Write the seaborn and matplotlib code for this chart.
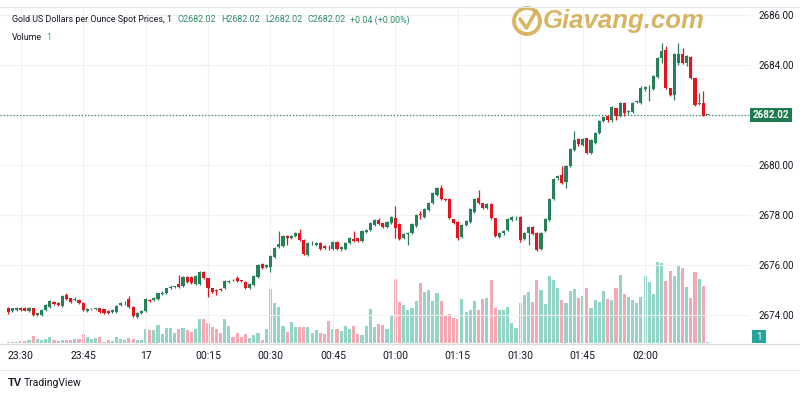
import matplotlib
matplotlib.use("Agg")
import matplotlib.pyplot as plt
import numpy as np
import pandas as pd
import seaborn as sns
from matplotlib.patches import Rectangle, Circle

# ---------------- data (1-minute candles, 23:27 -> 02:15) ----------------
open_ = [2674.29, 2674.17, 2674.20, 2674.29, 2674.29, 2674.17, 2674.27, 2674.00, 2674.00, 2674.20,
         2674.33, 2674.53, 2674.49, 2674.37, 2674.80, 2674.67, 2674.60, 2674.60, 2674.49, 2674.17,
         2674.23, 2674.23, 2674.27, 2674.23, 2674.16, 2674.13, 2674.13, 2674.39, 2674.47, 2674.63,
         2674.33, 2673.93, 2674.07, 2674.17, 2674.59, 2674.60, 2674.63, 2674.86, 2674.87, 2675.10,
         2675.12, 2675.23, 2675.16, 2675.53, 2675.51, 2675.23, 2675.24, 2675.71, 2675.47, 2675.07,
         2675.00, 2675.03, 2675.07, 2675.33, 2675.40, 2675.47, 2675.37, 2675.33, 2675.08, 2675.20,
         2675.53, 2676.03, 2675.91, 2675.93, 2676.33, 2676.73, 2676.76, 2677.16, 2677.09, 2677.16,
         2677.27, 2677.00, 2676.40, 2676.87, 2676.80, 2676.87, 2676.77, 2676.72, 2676.63, 2676.93,
         2676.63, 2676.63, 2676.87, 2677.03, 2677.07, 2676.95, 2677.31, 2677.40, 2677.60, 2677.80,
         2677.67, 2677.53, 2677.69, 2677.87, 2677.64, 2677.07, 2677.24, 2677.29, 2677.56, 2678.03,
         2677.93, 2678.20, 2678.47, 2678.80, 2679.09, 2678.63, 2678.63, 2677.83, 2677.73, 2677.13,
         2677.60, 2677.73, 2678.13, 2678.67, 2678.47, 2678.27, 2678.44, 2677.87, 2677.13, 2677.29,
         2677.40, 2677.80, 2677.87, 2677.91, 2677.03, 2677.27, 2677.53, 2677.29, 2676.63, 2677.37,
         2677.80, 2678.63, 2679.47, 2679.60, 2679.33, 2679.96, 2680.60, 2681.03, 2680.80, 2681.07,
         2680.47, 2680.89, 2681.29, 2681.76, 2681.96, 2681.80, 2682.27, 2681.96, 2682.49, 2682.13,
         2682.13, 2682.53, 2682.49, 2683.03, 2683.07, 2683.03, 2683.53, 2684.27, 2684.60, 2683.07,
         2682.80, 2684.07, 2684.44, 2684.07, 2684.33, 2683.47, 2682.44, 2682.49, 2682.02]
high = [2674.33, 2674.30, 2674.32, 2674.31, 2674.33, 2674.31, 2674.30, 2674.10, 2674.24, 2674.44,
        2674.62, 2674.58, 2674.52, 2674.80, 2674.88, 2674.70, 2674.72, 2674.64, 2674.52, 2674.27,
        2674.28, 2674.30, 2674.30, 2674.26, 2674.19, 2674.23, 2674.40, 2674.53, 2674.55, 2674.76,
        2674.36, 2674.12, 2674.20, 2674.67, 2674.65, 2674.71, 2674.90, 2674.95, 2675.10, 2675.20,
        2675.18, 2675.60, 2675.57, 2675.57, 2675.55, 2675.60, 2675.75, 2675.76, 2675.50, 2675.10,
        2675.03, 2675.10, 2675.40, 2675.41, 2675.45, 2675.55, 2675.42, 2675.36, 2675.28, 2675.60,
        2676.04, 2676.07, 2676.03, 2676.40, 2676.73, 2677.37, 2677.20, 2677.20, 2677.20, 2677.33,
        2677.43, 2677.04, 2676.93, 2676.95, 2676.93, 2676.91, 2676.81, 2676.80, 2676.97, 2676.97,
        2676.77, 2676.93, 2677.11, 2677.37, 2677.10, 2677.41, 2677.44, 2677.71, 2677.84, 2677.89,
        2677.70, 2677.77, 2677.97, 2678.36, 2677.68, 2677.27, 2677.33, 2677.68, 2678.04, 2678.15,
        2678.27, 2678.53, 2678.93, 2679.13, 2679.20, 2678.70, 2678.67, 2677.86, 2677.76, 2677.64,
        2677.81, 2678.27, 2678.67, 2679.00, 2678.50, 2678.48, 2678.47, 2677.90, 2677.33, 2677.41,
        2677.87, 2677.97, 2677.95, 2677.95, 2677.31, 2677.57, 2677.57, 2677.33, 2677.33, 2677.87,
        2678.67, 2679.47, 2679.60, 2679.96, 2680.00, 2680.67, 2681.37, 2681.07, 2681.07, 2681.10,
        2681.04, 2681.33, 2681.80, 2681.97, 2682.00, 2682.35, 2682.30, 2682.53, 2682.53, 2682.20,
        2682.53, 2682.60, 2683.17, 2683.17, 2683.20, 2683.60, 2684.31, 2684.87, 2684.75, 2683.10,
        2684.48, 2684.87, 2684.70, 2684.40, 2684.37, 2683.50, 2682.88, 2682.95, 2682.02]
low = [2674.06, 2674.13, 2674.17, 2674.17, 2674.15, 2674.14, 2673.96, 2673.95, 2673.97, 2674.17,
       2674.30, 2674.40, 2674.37, 2674.34, 2674.60, 2674.50, 2674.57, 2674.46, 2674.17, 2674.13,
       2674.20, 2674.20, 2674.10, 2674.06, 2674.03, 2674.10, 2674.10, 2674.36, 2674.42, 2674.30,
       2673.92, 2673.90, 2674.04, 2674.14, 2674.54, 2674.57, 2674.60, 2674.82, 2674.84, 2675.06,
       2675.08, 2675.10, 2675.12, 2675.30, 2675.26, 2675.20, 2675.21, 2675.44, 2674.71, 2674.88,
       2674.80, 2674.98, 2675.04, 2675.30, 2675.35, 2675.34, 2675.33, 2675.04, 2675.05, 2675.17,
       2675.50, 2675.86, 2675.88, 2675.73, 2676.30, 2676.70, 2676.73, 2676.80, 2677.05, 2677.12,
       2676.96, 2676.40, 2676.36, 2676.80, 2676.76, 2676.59, 2676.63, 2676.62, 2676.60, 2676.59,
       2676.55, 2676.60, 2676.84, 2676.93, 2676.94, 2676.92, 2677.28, 2677.37, 2677.57, 2677.61,
       2677.50, 2677.50, 2677.66, 2677.07, 2677.00, 2677.04, 2676.80, 2677.26, 2677.53, 2677.85,
       2677.90, 2678.17, 2678.44, 2678.77, 2678.60, 2678.56, 2677.84, 2677.64, 2677.00, 2677.10,
       2677.57, 2677.70, 2678.10, 2678.44, 2678.24, 2678.24, 2677.85, 2677.13, 2677.10, 2677.20,
       2677.37, 2677.77, 2677.82, 2676.92, 2677.00, 2676.80, 2677.20, 2676.55, 2676.60, 2677.34,
       2677.77, 2678.60, 2679.40, 2679.26, 2679.08, 2679.93, 2680.57, 2680.78, 2680.77, 2680.46,
       2680.44, 2680.86, 2681.26, 2681.73, 2681.72, 2681.72, 2681.80, 2681.93, 2681.98, 2682.05,
       2682.10, 2682.48, 2682.46, 2682.95, 2682.55, 2683.00, 2683.50, 2684.10, 2683.03, 2682.76,
       2682.60, 2684.00, 2684.05, 2683.95, 2683.43, 2682.36, 2682.40, 2681.96, 2682.02]
close = [2674.11, 2674.27, 2674.29, 2674.20, 2674.17, 2674.29, 2674.00, 2674.07, 2674.20, 2674.40,
         2674.57, 2674.44, 2674.40, 2674.76, 2674.63, 2674.53, 2674.63, 2674.49, 2674.20, 2674.23,
         2674.24, 2674.27, 2674.13, 2674.09, 2674.07, 2674.20, 2674.36, 2674.49, 2674.48, 2674.33,
         2673.96, 2674.09, 2674.17, 2674.63, 2674.57, 2674.67, 2674.87, 2674.88, 2675.07, 2675.11,
         2675.13, 2675.13, 2675.53, 2675.33, 2675.29, 2675.56, 2675.71, 2675.47, 2675.07, 2674.93,
         2674.96, 2675.02, 2675.36, 2675.37, 2675.39, 2675.37, 2675.36, 2675.07, 2675.24, 2675.56,
         2676.00, 2675.89, 2675.99, 2676.36, 2676.69, 2676.84, 2677.16, 2677.07, 2677.16, 2677.29,
         2677.00, 2676.44, 2676.89, 2676.88, 2676.89, 2676.63, 2676.67, 2676.71, 2676.93, 2676.63,
         2676.73, 2676.89, 2677.07, 2676.96, 2676.97, 2677.37, 2677.40, 2677.67, 2677.80, 2677.64,
         2677.53, 2677.73, 2677.93, 2677.47, 2677.03, 2677.23, 2677.29, 2677.64, 2678.00, 2678.02,
         2678.23, 2678.49, 2678.89, 2679.09, 2678.63, 2678.62, 2677.87, 2677.67, 2677.07, 2677.60,
         2677.77, 2678.23, 2678.63, 2678.47, 2678.27, 2678.44, 2677.88, 2677.16, 2677.29, 2677.37,
         2677.83, 2677.93, 2677.88, 2677.00, 2677.27, 2677.53, 2677.24, 2676.60, 2677.29, 2677.83,
         2678.63, 2679.43, 2679.56, 2679.29, 2679.96, 2680.63, 2681.00, 2680.84, 2681.03, 2680.49,
         2681.00, 2681.29, 2681.76, 2681.93, 2681.80, 2682.31, 2681.96, 2682.49, 2682.07, 2682.14,
         2682.49, 2682.54, 2683.07, 2683.13, 2683.08, 2683.56, 2684.27, 2684.57, 2683.07, 2682.80,
         2684.44, 2684.44, 2684.09, 2684.36, 2683.47, 2682.40, 2682.44, 2681.98, 2682.02]
volume = [1.3, 1.3, 0.7, 2, 2, 2.7, 6.7, 3.7, 3.3, 4.3, 6.3, 3.3, 2, 2.7, 3.3, 2.7, 3.7, 4, 9.3, 6,
          3.7, 4.7, 6, 1.3, 2.7, 2, 6, 4, 2.7,
          4.7, 3.7, 2.7, 3.3, 14, 13.3, 13.3, 18, 9.3, 14.7, 14.7, 10.3, 14, 14.7, 12.7, 11.3, 14,
          23.7, 23.7, 20, 16, 14, 10.3, 23.7, 17, 6.3, 10,
          6, 9.3, 4.7, 8, 10.3, 3.3, 14.3, 53.7, 40.3, 36, 17, 11, 21, 16.3, 16.3, 16.3, 16.3, 10,
          12.7, 10.3, 9.3, 22, 14.3, 14.3, 12, 16.7, 14.3, 17.3, 9.3,
          8, 16.7, 33.7, 16, 19.3, 18, 14, 28, 63.7, 41, 38, 32.7, 35.3, 42, 60, 51.3, 53, 42, 50,
          42, 27, 28.7, 24.7, 23.7, 44, 31.3, 33.3, 42,
          33.5, 44, 44.7, 62.7, 35.3, 33, 33, 36, 19.7, 15.3, 40.3, 47.7, 51, 41.3, 62.7, 53, 38.7,
          67, 63.3, 54.7, 43, 40.3, 52, 53.7, 44.7, 46.7, 54.7, 35.3, 42.7,
          41.3, 52, 44.3, 43.3, 55.3, 68, 49.3, 46, 42.7, 40.3, 46, 67, 61, 48.7, 81.3, 80.3, 62, 72,
          67, 78, 75.3, 56, 45, 71, 64, 57, 1]

time_ticks = [3, 18, 33, 48, 63, 78, 93, 108, 123, 138, 153]
time_labels = ["23:30", "23:45", "17", "00:15", "00:30", "00:45", "01:00", "01:15", "01:30", "01:45", "02:00"]
price_grid = [2674, 2676, 2678, 2680, 2682, 2684, 2686]
price_labels = ["2674.00", "2676.00", "2678.00", "2680.00", "", "2684.00", "2686.00"]
last_price = 2682.02
last_volume = 1
title = "Gold US Dollars per Ounce Spot Prices, 1"
ohlc_text = ["O2682.02", "H2682.02", "L2682.02", "C2682.02", "+0.04 (+0.00%)"]

# ---------------- style ----------------
sns.set_theme(style="white")
plt.rcParams['font.family'] = ['Liberation Sans Narrow', 'Roboto', 'DejaVu Sans']

UP = '#26815a'
DOWN = '#e3141d'
VUP = '#92d5c7'
VDOWN = '#f5a8b1'
TXT = '#131722'
GRID = '#f0f1f4'

df = pd.DataFrame({'i': np.arange(len(close)), 'o': open_, 'h': high, 'l': low, 'c': close, 'v': volume})
df['dir'] = np.where(df['c'] >= df['o'], 'up', 'down')

fig = plt.figure(figsize=(8, 4), dpi=100, facecolor='white')
ax = fig.add_axes([0, 57 / 400, 750 / 800, 338 / 400])
ax2 = ax.twinx()
ax.set_zorder(3)
ax.patch.set_visible(False)
ax2.set_zorder(2)
ax2.patch.set_visible(False)

# volume bars
sns.barplot(data=df, x='i', y='v', hue='dir', palette={'up': VUP, 'down': VDOWN},
            native_scale=True, dodge=False, width=0.75, saturation=1, errorbar=None,
            legend=False, linewidth=0, ax=ax2)
ax2.set_ylim(0, 338)
ax2.set_yticks([])
ax2.set_ylabel('')
ax2.set_xlabel('')
for s in ax2.spines.values():
    s.set_visible(False)

# candles
colors = np.where(df['dir'] == 'up', UP, DOWN)
ax.vlines(df['i'], df['l'], df['h'], colors=colors, linewidth=0.9, zorder=3)
body_bottom = np.minimum(df['o'], df['c'])
body_h = np.maximum(np.abs(df['c'] - df['o']), 0.025)
ax.bar(df['i'], body_h, bottom=body_bottom, width=0.75, color=colors, linewidth=0, zorder=4)

# last price dotted line
ax.axhline(last_price, color='#2e8b63', linestyle=(0, (1, 1.6)), linewidth=0.9, zorder=2)

ax.set_xlim(-1.97, 178.2)
ax.set_ylim(2672.88, 2686.4)
ax.set_xticks(time_ticks)
ax.set_xticklabels(time_labels)
ax.yaxis.tick_right()
ax.set_yticks(price_grid)
ax.set_yticklabels(price_labels)
ax.tick_params(axis='x', length=0, pad=6, labelsize=7.5, colors=TXT)
ax.tick_params(axis='y', length=0, pad=6, labelsize=7, colors=TXT, right=True, labelright=True,
               left=False, labelleft=False)
ax.grid(True, color=GRID, linewidth=0.8)
ax.set_axisbelow(True)
ax.set_xlabel('')
ax.set_ylabel('')
for s in ax.spines.values():
    s.set_visible(False)

# ---------------- overlay (pixel coordinates) ----------------
ov = fig.add_axes([0, 0, 1, 1])
ov.set_xlim(0, 800)
ov.set_ylim(400, 0)
ov.axis('off')
ov.set_zorder(10)
ov.patch.set_visible(False)

ov.plot([0, 800], [7, 7], color='#e6e8ee', lw=0.8)
ov.plot([0, 800], [343.5, 343.5], color='#d9dce3', lw=0.9)
ov.plot([0, 800], [370, 370], color='#e6e8ee', lw=0.8)

# header line: texts chained one after another so they never overlap
fig.canvas.draw()
renderer = fig.canvas.get_renderer()
hdr_size = 6.4
t = ov.text(12, 20, title, fontsize=hdr_size, color=TXT, va='center', ha='left')
xcur = t.get_window_extent(renderer).x1 + 6
for s in ohlc_text:
    tt = ov.text(xcur, 20, s, fontsize=hdr_size, color='#2e8b63', va='center', ha='left')
    xcur = tt.get_window_extent(renderer).x1 + 5
tv = ov.text(12, 37, "Volume", fontsize=hdr_size, color=TXT, va='center', ha='left')
ov.text(tv.get_window_extent(renderer).x1 + 4, 37, str(last_volume), fontsize=hdr_size,
        color='#26a69a', va='center', ha='left')

# last price badge
ov.add_patch(Rectangle((750, 108), 42, 14, color='#1e7b4f', lw=0))
ov.text(771, 115.3, f"{last_price:.2f}", fontsize=7, color='white', va='center', ha='center',
        fontweight='bold')
# volume badge
ov.add_patch(Rectangle((752, 330), 14, 13, color='#26a69a', lw=0))
ov.text(759, 336.8, str(last_volume), fontsize=7, color='white', va='center', ha='center')

# watermark logo
GOLD = '#d4ae55'
ov.add_patch(Circle((527, 21), 13, fill=False, ec=GOLD, lw=2.8, alpha=0.9))
ov.plot([520, 526.5, 536], [19, 28, 11], color=GOLD, lw=2.6, alpha=0.9, solid_capstyle='round')
ov.text(624, 21, "Giavang.com", fontsize=18.5, color=GOLD, fontweight='bold', fontstyle='italic',
        va='center', ha='center', family=['Liberation Sans', 'DejaVu Sans'], alpha=0.92)

# TradingView logo
ov.text(8, 383, "TV", fontsize=8, color=TXT, fontweight='bold', va='center', ha='left',
        family=['Liberation Sans', 'DejaVu Sans'])
ov.text(24, 383, "TradingView", fontsize=7.5, color=TXT, va='center', ha='left')

fig.savefig("out.png", dpi=100, facecolor='white')
